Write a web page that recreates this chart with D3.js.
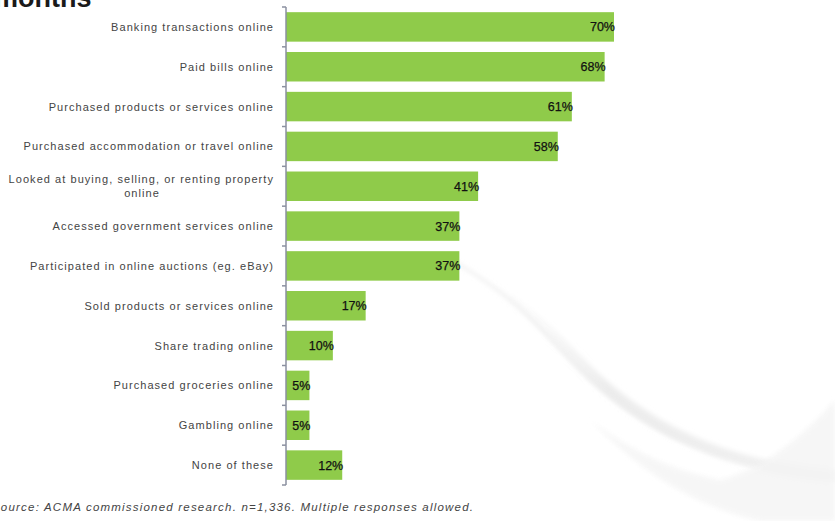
<!DOCTYPE html>
<html>
<head>
<meta charset="utf-8">
<script src="https://cdn.jsdelivr.net/npm/d3@7"></script>
<style>
  html, body { margin: 0; padding: 0; background: #fff; overflow: hidden; }
  svg { display: block; }
</style>
</head>
<body>
<svg id="chart" width="835" height="521"></svg>
<script>
// Online activities, share of respondents
const categories = [
  "Banking transactions online",
  "Paid bills online",
  "Purchased products or services online",
  "Purchased accommodation or travel online",
  "Looked at buying, selling, or renting property|online",
  "Accessed government services online",
  "Participated in online auctions (eg. eBay)",
  "Sold products or services online",
  "Share trading online",
  "Purchased groceries online",
  "Gambling online",
  "None of these"
];
const values = [70, 68, 61, 58, 41, 37, 37, 17, 10, 5, 5, 12];
const valueLabels = ["70%", "68%", "61%", "58%", "41%", "37%", "37%", "17%", "10%", "5%", "5%", "12%"];

const svg = d3.select("#chart");

// Soft decorative swoosh in the background
const defs = svg.append("defs");
const g1 = defs.append("linearGradient").attr("id", "swoosh").attr("x1", "0").attr("y1", "0").attr("x2", "1").attr("y2", "0");
g1.append("stop").attr("offset", "0%").attr("stop-color", "#ffffff").attr("stop-opacity", 0);
g1.append("stop").attr("offset", "40%").attr("stop-color", "#e8e8e8").attr("stop-opacity", 0.8);
g1.append("stop").attr("offset", "100%").attr("stop-color", "#eeeeee").attr("stop-opacity", 0.8);
const blur = defs.append("filter").attr("id", "soft").attr("x", "-20%").attr("y", "-20%").attr("width", "140%").attr("height", "140%");
blur.append("feGaussianBlur").attr("stdDeviation", 2.5);

svg.append("path")
  .attr("d", "M455,262 C520,300 540,330 580,370 C640,430 720,470 835,478 L835,470 C730,462 650,425 590,365 C550,325 520,292 455,262 Z")
  .attr("fill", "url(#swoosh)")
  .attr("filter", "url(#soft)");
svg.append("path")
  .attr("d", "M455,262 C520,300 540,330 580,370 C640,430 720,470 835,480")
  .attr("fill", "none").attr("stroke", "#dadada").attr("stroke-width", 1.3)
  .attr("filter", "url(#soft)");
svg.append("path")
  .attr("d", "M590,420 C640,470 690,505 760,521 L835,521 L835,400 C800,440 760,470 720,480 C670,470 630,450 590,420 Z")
  .attr("fill", "#f4f4f4").attr("opacity", 0.8).attr("filter", "url(#soft)");

// Scales
const x0 = 286;
const x = d3.scaleLinear().domain([0, 70]).range([x0, 614]);
const y = d3.scaleBand().domain(categories).range([7, 485]).paddingInner(0.26).paddingOuter(0.13);

// Bars
svg.append("g").selectAll("rect")
  .data(categories)
  .join("rect")
  .attr("x", x0)
  .attr("y", d => y(d))
  .attr("width", (d, i) => x(values[i]) - x0)
  .attr("height", y.bandwidth())
  .attr("fill", "#8fcb4a");

// Value labels at the bar ends
svg.append("g").selectAll("text")
  .data(categories)
  .join("text")
  .attr("x", (d, i) => x(values[i]) + 1)
  .attr("y", d => y(d) + y.bandwidth() / 2 + 4.5)
  .attr("text-anchor", "end")
  .attr("font-family", "Arial, 'Liberation Sans', sans-serif")
  .attr("font-size", 12.5)
  .attr("fill", "#111")
  .attr("stroke", "#111")
  .attr("stroke-width", 0.25)
  .text((d, i) => valueLabels[i]);

// Category axis with boundary ticks
const axisG = svg.append("g");
axisG.append("line")
  .attr("x1", x0).attr("x2", x0)
  .attr("y1", 7).attr("y2", 485)
  .attr("stroke", "#8b90a0").attr("stroke-width", 1.5);
const step = y.step();
const bounds = d3.range(categories.length + 1).map(i => 7 + i * step);
axisG.selectAll("line.tick")
  .data(bounds)
  .join("line")
  .attr("class", "tick")
  .attr("x1", x0 - 4).attr("x2", x0)
  .attr("y1", d => d).attr("y2", d => d)
  .attr("stroke", "#8b90a0").attr("stroke-width", 1.5);

// Category labels
const labels = svg.append("g")
  .attr("font-family", "Arial, 'Liberation Sans', sans-serif")
  .attr("font-size", 11)
  .attr("letter-spacing", 1.05)
  .attr("fill", "#444");
categories.forEach(c => {
  const lines = c.split("|");
  const cy = y(c) + y.bandwidth() / 2;
  if (lines.length === 1) {
    labels.append("text")
      .attr("x", 274).attr("y", cy + 4)
      .attr("text-anchor", "end")
      .text(lines[0]);
  } else {
    labels.append("text")
      .attr("x", 274).attr("y", cy - 3)
      .attr("text-anchor", "end")
      .text(lines[0]);
    labels.append("text")
      .attr("x", 142).attr("y", cy + 11)
      .attr("text-anchor", "middle")
      .text(lines[1]);
  }
});

// Title (top edge) and source note
svg.append("text")
  .attr("x", -6).attr("y", 7)
  .attr("font-family", "Arial, 'Liberation Sans', sans-serif")
  .attr("font-size", 27)
  .attr("font-weight", "bold")
  .attr("fill", "#1a1a1a")
  .text("months");

svg.append("text")
  .attr("x", -8).attr("y", 511)
  .attr("font-family", "Arial, 'Liberation Sans', sans-serif")
  .attr("font-size", 11.5)
  .attr("font-style", "italic")
  .attr("letter-spacing", 1.2)
  .attr("fill", "#444")
  .text("Source: ACMA commissioned research. n=1,336. Multiple responses allowed.");
</script>
</body>
</html>
